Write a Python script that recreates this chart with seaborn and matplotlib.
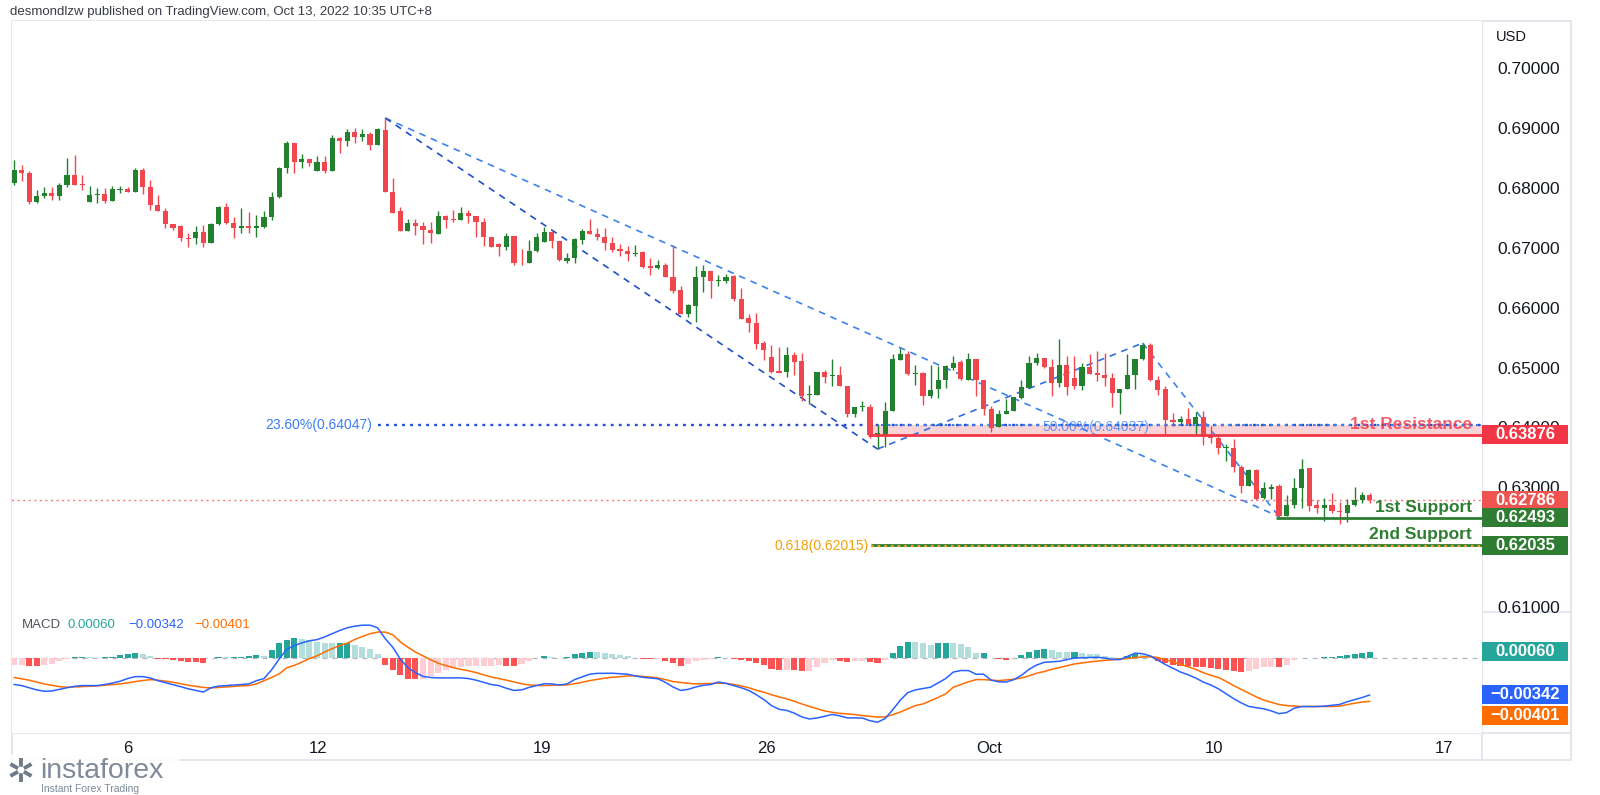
import numpy as np
import pandas as pd
import matplotlib
matplotlib.use('Agg')
import matplotlib.pyplot as plt
import matplotlib.transforms as mtransforms
from matplotlib.patches import Rectangle
from matplotlib.lines import Line2D
import seaborn as sns

# AUD/USD 4h candles, prices in pips (x 1e-4)
opens = [6809, 6830, 6825, 6777, 6786, 6792, 6786, 6805, 6822, 6806,
         6776, 6788, 6790, 6779, 6797, 6799, 6793, 6830, 6801, 6772,
         6762, 6740, 6736, 6716, 6716, 6726, 6708, 6740, 6769, 6741,
         6734, 6736, 6734, 6735, 6751, 6785, 6833, 6875, 6844, 6849,
         6828, 6844, 6828, 6884, 6878, 6894, 6886, 6891, 6872, 6897,
         6794, 6761, 6729, 6741, 6737, 6730, 6724, 6754, 6748, 6746,
         6758, 6754, 6743, 6718, 6707, 6701, 6720, 6675, 6674, 6695,
         6710, 6726, 6711, 6678, 6683, 6714, 6728, 6724, 6719, 6709,
         6698, 6695, 6690, 6693, 6670, 6667, 6672, 6651, 6629, 6590,
         6603, 6651, 6661, 6645, 6644, 6653, 6614, 6583, 6575, 6541,
         6517, 6494, 6492, 6521, 6511, 6455, 6455, 6492, 6486, 6488,
         6470, 6423, 6434, 6435, 6387, 6388, 6427, 6513, 6523, 6490,
         6491, 6453, 6464, 6480, 6500, 6509, 6480, 6515, 6479, 6431,
         6401, 6423, 6427, 6450, 6466, 6508, 6516, 6501, 6475, 6504,
         6483, 6470, 6501, 6491, 6487, 6483, 6457, 6465, 6487, 6514,
         6537, 6480, 6465, 6413, 6409, 6414, 6405, 6418, 6388, 6383,
         6366, 6366, 6334, 6303, 6329, 6282, 6298, 6302, 6252, 6270,
         6299, 6332, 6271, 6266, 6271, 6261, 6257, 6270, 6279, 6288]
highs = [6847, 6839, 6828, 6797, 6802, 6802, 6808, 6850, 6855, 6822,
         6803, 6800, 6800, 6803, 6804, 6801, 6833, 6833, 6814, 6788,
         6766, 6740, 6739, 6725, 6736, 6739, 6741, 6770, 6775, 6752,
         6766, 6760, 6755, 6762, 6794, 6835, 6878, 6875, 6857, 6849,
         6853, 6853, 6889, 6886, 6898, 6900, 6898, 6894, 6900, 6917,
         6816, 6768, 6748, 6748, 6744, 6744, 6762, 6755, 6764, 6769,
         6764, 6754, 6750, 6718, 6708, 6725, 6720, 6698, 6714, 6725,
         6735, 6728, 6711, 6692, 6717, 6731, 6748, 6733, 6733, 6718,
         6707, 6703, 6705, 6694, 6683, 6680, 6675, 6705, 6636, 6607,
         6670, 6672, 6661, 6655, 6657, 6655, 6633, 6590, 6591, 6544,
         6538, 6535, 6534, 6526, 6524, 6471, 6493, 6496, 6514, 6502,
         6470, 6435, 6445, 6440, 6404, 6443, 6523, 6532, 6527, 6505,
         6492, 6505, 6503, 6505, 6519, 6512, 6525, 6515, 6479, 6436,
         6430, 6447, 6451, 6480, 6519, 6525, 6516, 6514, 6548, 6519,
         6519, 6508, 6523, 6527, 6525, 6491, 6465, 6523, 6514, 6541,
         6541, 6486, 6469, 6424, 6419, 6433, 6426, 6427, 6402, 6387,
         6372, 6381, 6338, 6331, 6331, 6309, 6306, 6305, 6288, 6315,
         6348, 6333, 6279, 6282, 6291, 6276, 6281, 6301, 6292, 6291]
lows = [6805, 6811, 6773, 6775, 6783, 6780, 6780, 6801, 6805, 6797,
        6776, 6775, 6775, 6778, 6792, 6793, 6793, 6790, 6764, 6762,
        6733, 6730, 6711, 6702, 6707, 6702, 6708, 6739, 6740, 6716,
        6725, 6725, 6719, 6733, 6747, 6783, 6825, 6825, 6833, 6837,
        6828, 6825, 6828, 6859, 6870, 6875, 6878, 6864, 6872, 6794,
        6758, 6728, 6728, 6722, 6707, 6708, 6724, 6734, 6744, 6746,
        6742, 6719, 6704, 6702, 6686, 6697, 6672, 6672, 6674, 6693,
        6710, 6700, 6678, 6675, 6674, 6707, 6723, 6714, 6697, 6693,
        6686, 6678, 6686, 6667, 6655, 6665, 6651, 6624, 6590, 6585,
        6576, 6626, 6616, 6636, 6641, 6611, 6581, 6560, 6531, 6513,
        6491, 6491, 6485, 6487, 6445, 6440, 6455, 6474, 6470, 6470,
        6418, 6417, 6427, 6382, 6364, 6367, 6427, 6512, 6488, 6471,
        6437, 6449, 6449, 6466, 6496, 6480, 6480, 6453, 6420, 6392,
        6401, 6422, 6427, 6448, 6466, 6504, 6500, 6453, 6468, 6454,
        6465, 6463, 6490, 6477, 6470, 6435, 6423, 6465, 6465, 6513,
        6477, 6455, 6388, 6402, 6405, 6405, 6388, 6371, 6374, 6356,
        6344, 6325, 6290, 6302, 6279, 6281, 6281, 6251, 6252, 6266,
        6266, 6260, 6257, 6243, 6257, 6238, 6242, 6269, 6273, 6273]
closes = [6830, 6825, 6777, 6786, 6792, 6786, 6805, 6822, 6805, 6805,
          6788, 6790, 6779, 6798, 6799, 6794, 6830, 6801, 6772, 6762,
          6740, 6734, 6716, 6715, 6726, 6708, 6740, 6769, 6741, 6733,
          6736, 6734, 6736, 6751, 6785, 6833, 6875, 6844, 6849, 6842,
          6844, 6828, 6884, 6878, 6894, 6886, 6891, 6872, 6898, 6794,
          6759, 6729, 6741, 6736, 6730, 6725, 6754, 6747, 6747, 6758,
          6754, 6743, 6718, 6702, 6702, 6720, 6674, 6674, 6695, 6719,
          6726, 6711, 6679, 6683, 6715, 6728, 6723, 6718, 6708, 6696,
          6694, 6690, 6691, 6668, 6667, 6672, 6651, 6628, 6590, 6604,
          6651, 6661, 6644, 6646, 6651, 6615, 6581, 6575, 6539, 6529,
          6492, 6491, 6521, 6510, 6453, 6456, 6492, 6485, 6487, 6470,
          6423, 6435, 6435, 6387, 6390, 6428, 6514, 6523, 6490, 6491,
          6453, 6463, 6480, 6502, 6507, 6481, 6515, 6479, 6431, 6399,
          6423, 6428, 6451, 6467, 6508, 6516, 6501, 6475, 6505, 6468,
          6469, 6501, 6490, 6487, 6483, 6457, 6465, 6487, 6514, 6537,
          6479, 6463, 6413, 6409, 6414, 6405, 6418, 6388, 6383, 6366,
          6367, 6334, 6303, 6329, 6281, 6299, 6301, 6252, 6270, 6299,
          6331, 6269, 6266, 6271, 6260, 6258, 6270, 6279, 6288, 6278.6]

# MACD (12, 26, 9) lines, x 1e-5
macd_line = [-245, -255, -275, -295, -308, -305, -290, -275, -262, -255,
             -255, -255, -245, -232, -215, -190, -172, -172, -185, -210,
             -228, -245, -265, -285, -300, -315, -275, -260, -255, -250,
             -245, -240, -210, -190, -110, -10, 80, 115, 140, 160,
             170, 195, 225, 255, 280, 295, 304, 304, 280, 180,
             100, -10, -90, -135, -170, -180, -184, -184, -184, -184,
             -190, -205, -225, -245, -255, -280, -300, -295, -272, -255,
             -238, -240, -250, -240, -200, -175, -150, -142, -141, -141,
             -145, -150, -165, -178, -185, -192, -225, -268, -300, -290,
             -268, -252, -245, -222, -235, -255, -275, -300, -340, -385,
             -440, -475, -485, -510, -545, -564, -555, -540, -522, -535,
             -554, -554, -556, -580, -594, -560, -480, -390, -320, -295,
             -282, -270, -230, -190, -130, -116, -116, -150, -150, -205,
             -220, -222, -200, -160, -105, -65, -40, -35, -30, -15,
             0, 3, 5, 7, 0, -12, -15, 15, 45, 40,
             20, -20, -60, -95, -130, -155, -185, -222, -250, -285,
             -330, -375, -415, -448, -460, -470, -490, -515, -505, -465,
             -449, -449, -449, -445, -438, -430, -405, -385, -365, -341.6]
signal_line = [-180, -192, -205, -222, -240, -252, -265, -270, -268, -264,
               -261, -258, -252, -246, -240, -230, -218, -208, -200, -205,
               -215, -224, -238, -252, -262, -272, -277, -272, -266, -262,
               -258, -255, -240, -210, -180, -147, -91, -68, -38, -5,
               20, 55, 87, 115, 138, 172, 200, 225, 240, 240,
               215, 150, 100, 55, 20, -15, -48, -70, -90, -105,
               -118, -135, -155, -175, -190, -205, -222, -238, -249, -253,
               -255, -252, -250, -249, -238, -225, -209, -198, -186, -178,
               -172, -167, -165, -170, -176, -184, -200, -218, -226, -234,
               -240, -238, -236, -233, -234, -245, -258, -275, -298, -317,
               -340, -360, -378, -400, -425, -448, -468, -490, -502, -512,
               -517, -524, -533, -540, -546, -545, -525, -500, -470, -440,
               -425, -395, -365, -332, -270, -246, -220, -200, -200, -205,
               -209, -203, -196, -185, -165, -141, -125, -105, -88, -70,
               -55, -45, -36, -28, -21, -17, -10, -3, 5, 10,
               13, 5, -15, -35, -60, -80, -105, -135, -160, -180,
               -215, -255, -290, -325, -360, -390, -410, -430, -440, -445,
               -449, -449, -450, -450, -449, -445, -432, -418, -408, -401.2]

date_ticks = [15.0, 40.2, 69.7, 99.3, 128.8, 158.4, 188.8]
date_labels = ['6', '12', '19', '26', 'Oct', '10', '17']
# 0.62000 sits fully under the 0.62035 tag in the reference, so it is left out
price_ticks = [0.61, 0.63, 0.64, 0.65, 0.66, 0.67, 0.68, 0.69, 0.70]

# drawn levels
resistance_1 = 0.63876
support_1 = 0.62493
support_2 = 0.62035
fib_236 = 0.64047
fib_500 = 0.64037
fib_618 = 0.62015
# zigzag pivots (candle index) for the dashed drawing
pivot_top = 49
pivot_low1 = 114
pivot_top2 = 149
pivot_low2 = 167
fib_start = 113.2
fib236_start = 48.0
sup1_start = 166.6

GREEN = '#23802f'
RED = '#f0474f'
W, H = 1600, 795

sns.set_style('white')
plt.rcParams['font.family'] = ['Liberation Sans', 'DejaVu Sans']

fig = plt.figure(figsize=(16, 7.95), dpi=100)
fig.patch.set_facecolor('white')


def fx(x):
    return x / W


def fy(y):
    return 1 - y / H


ax = fig.add_axes([fx(12), fy(612), fx(1470), (612 - 21) / H])
ax2 = fig.add_axes([fx(12), fy(733), fx(1470), (733 - 612) / H], sharex=ax)

o = np.array(opens) / 1e4
h = np.array(highs) / 1e4
l = np.array(lows) / 1e4
c = np.array(closes) / 1e4
n = len(c)
idx = np.arange(n)
up = c >= o
col = np.where(up, GREEN, RED)

ax.vlines(idx, l, h, colors=col, lw=1.0, zorder=4)
ax.bar(idx, np.maximum(np.abs(c - o), 0.00014), bottom=np.minimum(o, c),
       width=0.68, color=col, lw=0, zorder=5)

ax.set_xlim(-0.264, 193.8)
ax.set_ylim(0.60917, 0.70791)

# pink resistance zone + levels
xr = ax.get_xlim()[1]
ax.add_patch(Rectangle((fib_start, resistance_1), xr - fib_start, fib_236 - resistance_1,
                       fc='#f9cdd0', ec='none', alpha=0.85, zorder=2))
ax.hlines(c[-1], -1, xr, colors='#f47a80', lw=1.0, linestyles=(0, (1.5, 2.5)), zorder=3)
ax.hlines(fib_236, fib236_start, xr, colors='#1f50d6', lw=1.7, linestyles=(0, (1.2, 2.2)), zorder=3)
ax.hlines(fib_500, fib_start + 1.3, xr, colors='#3a7ef2', lw=1.5, linestyles=(0, (1.2, 2.2)), zorder=3)
ax.hlines(resistance_1, fib_start - 0.4, xr, colors='#f23645', lw=2.0, zorder=6)
ax.hlines(support_1, sup1_start, xr, colors='#2e7d32', lw=2.0, zorder=6)
ax.hlines(support_2, fib_start, xr, colors='#2e7d32', lw=2.0, zorder=6)
ax.hlines(fib_618, fib_start, xr, colors='#f5a31a', lw=1.5, linestyles=(0, (1.2, 2.0)), zorder=6)

# dashed zigzag / channel
dash = (0, (4, 3.5))
ax.plot([pivot_top, pivot_low2], [h[pivot_top], l[pivot_low2]], color='#3b82f0', lw=1.2, ls=dash, zorder=3)
ax.plot([pivot_top, pivot_low1], [h[pivot_top], l[pivot_low1]], color='#1f4fc8', lw=1.2, ls=dash, zorder=3)
ax.plot([pivot_low1, pivot_top2], [l[pivot_low1], h[pivot_top2]], color='#2f6fe0', lw=1.2, ls=dash, zorder=3)
ax.plot([pivot_top2, pivot_low2], [h[pivot_top2], l[pivot_low2]], color='#3b82f0', lw=1.2, ls=dash, zorder=3)

# level texts
ax.annotate('23.60%(0.64047)', (fib236_start, fib_236), xytext=(-4, 0), textcoords='offset points',
            ha='right', va='center', color='#3a7ef2', fontsize=10)
ax.annotate('50.00%(0.64037)', (142.8, fib_500), xytext=(0, -1), textcoords='offset points',
            ha='center', va='center', color='#3a7ef2', fontsize=10, alpha=0.75, zorder=7)
ax.annotate('0.618(0.62015)', (fib_start, fib_618), xytext=(-2, 0), textcoords='offset points',
            ha='right', va='center', color='#f0a20a', fontsize=10)
tr_a = mtransforms.blended_transform_factory(ax.transAxes, ax.transData)
ax.text(0.993, fib_236 + 0.00008, '1st Resistance', transform=tr_a, ha='right', va='center',
        color='#f23645', fontsize=12.5, fontweight='bold', alpha=0.8, zorder=7)
ax.annotate('1st Support', (0.993, support_1), xycoords=tr_a, xytext=(0, 2), textcoords='offset points',
            ha='right', va='bottom', color='#2e7d32', fontsize=12.5, fontweight='bold', zorder=7)
ax.annotate('2nd Support', (0.993, support_2), xycoords=tr_a, xytext=(0, 2), textcoords='offset points',
            ha='right', va='bottom', color='#2e7d32', fontsize=12.5, fontweight='bold', zorder=7)

# price scale
ax.yaxis.tick_right()
ax.set_yticks(price_ticks)
ax.set_yticklabels([f'{t:.5f}' for t in price_ticks])
ax.tick_params(axis='y', length=0, pad=11, labelsize=12.5, labelcolor='#131722')
ax.tick_params(axis='x', length=0, labelbottom=False)
for s in ax.spines.values():
    s.set_visible(False)

box_w = 86 / 1470


def tag(a, y, txt, fc, half):
    tr = mtransforms.blended_transform_factory(a.transAxes, a.transData)
    a.add_patch(Rectangle((1.0, y - half), box_w, 2 * half, transform=tr, fc=fc, ec='none',
                          clip_on=False, zorder=20))
    a.text(1.0 + box_w / 2, y, txt, transform=tr, ha='center', va='center', color='white',
           fontsize=12, fontweight='bold', clip_on=False, zorder=21)


ph = 9.5 / 5985
tag(ax, resistance_1, '0.63876', '#f23645', ph)
tag(ax, c[-1], f'{c[-1]:.5f}', '#ef5350', ph)
tag(ax, support_1, '0.62493', '#2e7d32', ph)
tag(ax, support_2, '0.62035', '#2e7d32', ph)

# MACD pane
m = np.array(macd_line) / 1e5
s = np.array(signal_line) / 1e5
hist = m - s
prev = np.concatenate([[hist[0]], hist[:-1]])
hcol = np.where(hist >= 0, np.where(hist >= prev, '#26a69a', '#b2dfdb'),
                np.where(hist < prev, '#ff5252', '#ffcdd2'))
ax2.axhline(0, color='#b2b5be', lw=0.9, ls=(0, (4, 4)), zorder=1)
ax2.bar(idx, hist, width=0.8, color=hcol, lw=0, zorder=2)
df = pd.DataFrame({'bar': idx, 'macd': m, 'signal': s})
sns.lineplot(data=df, x='bar', y='macd', ax=ax2, color='#2962ff', lw=1.1, zorder=4)
sns.lineplot(data=df, x='bar', y='signal', ax=ax2, color='#ff6d00', lw=1.1, zorder=3)
ax2.set_ylim(-0.00694, 0.00426)
ax2.set_xlim(-0.264, 193.8)
ax2.set_xlabel('')
ax2.set_ylabel('')
ax2.set_yticks([])
ax2.set_xticks(date_ticks)
ax2.set_xticklabels(date_labels)
ax2.tick_params(axis='x', length=0, pad=6, labelsize=12, labelcolor='#131722')
for sp in ax2.spines.values():
    sp.set_visible(False)

mh = 9.5 / 10.8 * 0.001
tag(ax2, hist[-1], f'{hist[-1]:.5f}', '#26a69a', mh)
tag(ax2, m[-1], f'\u2212{abs(m[-1]):.5f}', '#2962ff', mh)
tag(ax2, min(s[-1], m[-1] - 2.2 * mh), f'\u2212{abs(s[-1]):.5f}', '#ff6d00', mh)

# MACD legend
fig.text(fx(22), fy(625), 'MACD', color='#50535e', fontsize=9.5, va='center')
fig.text(fx(67), fy(625), f'{hist[-1]:.5f}', color='#26a69a', fontsize=9.5, va='center')
fig.text(fx(128), fy(625), f'\u2212{abs(m[-1]):.5f}', color='#2962ff', fontsize=9.5, va='center')
fig.text(fx(194), fy(625), f'\u2212{abs(s[-1]):.5f}', color='#ff6d00', fontsize=9.5, va='center')

# pane borders
bc = '#e0e3eb'
for (x0, y0, x1, y1) in [(12, 21, 1571, 21), (12, 612, 1571, 612), (12, 733, 1571, 733),
                         (12, 760, 1571, 760), (12, 21, 12, 760), (1482, 21, 1482, 760),
                         (1571, 21, 1571, 760)]:
    fig.add_artist(Line2D([fx(x0), fx(x1)], [fy(y0), fy(y1)], color=bc, lw=1.2, zorder=0))

fig.text(fx(10), fy(12), 'desmondlzw published on TradingView.com, Oct 13, 2022 10:35 UTC+8',
         color='#3a3d45', fontsize=9.5, va='center')
fig.text(fx(1496), fy(37), 'USD', color='#131722', fontsize=10.5, va='center')

# watermark logo
fig.add_artist(Rectangle((0, 0), fx(180), (795 - 755) / H, transform=fig.transFigure,
                         fc='white', ec='none', alpha=0.85, zorder=30))
fig.text(fx(21), fy(772), '\u2732', color='#6f7b88', fontsize=24, ha='center', va='center',
         family='DejaVu Sans', zorder=31)
fig.text(fx(40), fy(771), 'instaforex', color='#7f8b99', fontsize=20.5, va='center', zorder=31)
fig.text(fx(41), fy(789), 'Instant Forex Trading', color='#7f8b99', fontsize=7.5, va='center', zorder=31)

fig.savefig('out.png', dpi=100, facecolor='white')
